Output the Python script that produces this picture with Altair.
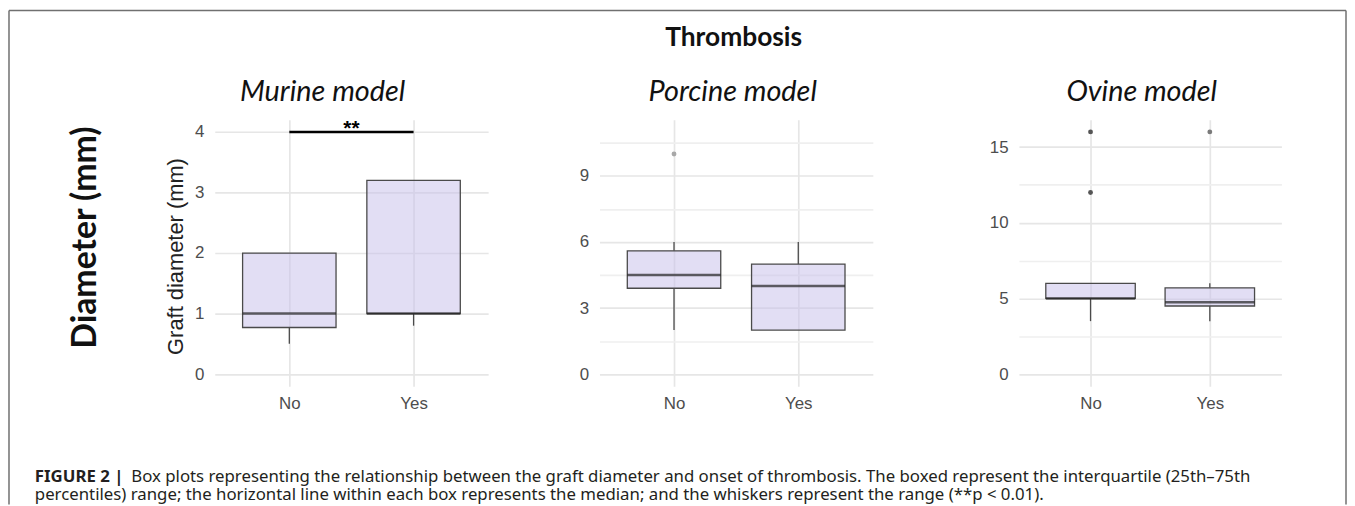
import altair as alt
import pandas as pd

# ---------------- data ----------------
groups = ["No", "Yes"]

murine_q1 = [0.77, 1.0]
murine_median = [1.0, 1.0]
murine_q3 = [2.0, 3.2]
murine_low = [0.5, 0.8]
murine_high = [2.0, 3.2]
murine_out_group = []
murine_out_value = []
murine_ticks = [0, 0.5, 1, 1.5, 2, 2.5, 3, 3.5, 4]

porcine_q1 = [3.9, 2.0]
porcine_median = [4.5, 4.0]
porcine_q3 = [5.6, 5.0]
porcine_low = [2.0, 2.0]
porcine_high = [6.0, 6.0]
porcine_out_group = ["No"]
porcine_out_value = [10.0]
porcine_ticks = [0, 1.5, 3, 4.5, 6, 7.5, 9, 10.5]

ovine_q1 = [5.0, 4.5]
ovine_median = [5.0, 4.75]
ovine_q3 = [6.0, 5.7]
ovine_low = [3.5, 3.5]
ovine_high = [6.0, 6.0]
ovine_out_group = ["No", "No", "Yes"]
ovine_out_value = [16.0, 12.0, 16.0]
ovine_ticks = [0, 2.5, 5, 7.5, 10, 12.5, 15]

sig_from = ["No"]
sig_to = ["Yes"]
sig_level = [4.0]
sig_label = ["**"]

panel_titles = ["Murine model", "Porcine model", "Ovine model"]
main_title = "Thrombosis"
side_title = "Diameter (mm)"
y_title = "Graft diameter (mm)"
caption_bold = "FIGURE 2 |"
caption_line1 = ("Box plots representing the relationship between the graft diameter and onset of "
                 "thrombosis. The boxed represent the interquartile (25th\u201375th")
caption_line2 = ("percentiles) range; the horizontal line within each box represents the median; "
                 "and the whiskers represent the range (**p < 0.01).")

# ---------------- styling ----------------
H = 268
FILL = "#c5bdea"
EDGE = "#4a4a4a"
TITLE_FONT = "Lato"
AX_FONT = "Liberation Sans"
CAP_FONT = "Noto Sans"
CAP_SIZE = 16.9

one = pd.DataFrame({"k": [0]})


def text_layer(txt, x, y, size, weight="normal", style="normal", font=TITLE_FONT,
               angle=0, align="center", baseline="alphabetic", color="#111111"):
    return alt.Chart(one).mark_text(
        font=font, fontSize=size, fontWeight=weight, fontStyle=style,
        angle=angle, align=align, baseline=baseline, color=color
    ).encode(x=alt.value(x), y=alt.value(y), text=alt.value(txt))


def panel(q1, med, q3, lo, hi, og, ov, ticks, domain, label_step, width, box_w,
          out_color, extra):
    box_df = pd.DataFrame({"group": groups, "q1": q1, "med": med, "q3": q3,
                           "lo": lo, "hi": hi})
    out_df = pd.DataFrame({"group": og, "value": ov})
    xs = alt.Scale(type="point", padding=0.6, domain=groups)
    ys = alt.Scale(domain=domain, nice=False, zero=False)
    xenc = alt.X("group:N", scale=xs,
                 axis=alt.Axis(title=None, labelAngle=0, labelPadding=9, grid=True,
                               gridColor="#e6e6e6", gridWidth=1.7))
    yaxis = alt.Axis(title=None, values=ticks, labelPadding=11,
                     labelExpr=f"datum.value % {label_step} === 0 ? '' + datum.value : ''",
                     gridWidth=1.7,
                     gridColor={"condition": {"test": f"datum.value % {label_step} !== 0",
                                              "value": "#efefef"},
                                "value": "#e6e6e6"})

    def Y(f):
        return alt.Y(f, scale=ys, axis=yaxis)

    base = alt.Chart(box_df)
    w_lo = base.mark_rule(color=EDGE, strokeWidth=1.3).encode(x=xenc, y=Y("lo:Q"), y2="q1:Q")
    w_hi = base.mark_rule(color=EDGE, strokeWidth=1.3).encode(x=xenc, y=Y("q3:Q"), y2="hi:Q")
    box = base.mark_bar(size=box_w, fill=FILL, fillOpacity=0.5, stroke=EDGE,
                        strokeWidth=1.3).encode(x=xenc, y=Y("q1:Q"), y2="q3:Q")
    mid = base.mark_tick(size=box_w, thickness=2.6, color="#222222").encode(
        x=xenc, y=Y("med:Q"))
    layers = [box, w_lo, w_hi, mid]
    if len(og):
        pts = alt.Chart(out_df).mark_circle(size=24, opacity=1).encode(
            x=xenc, y=Y("value:Q"),
            color=alt.condition(alt.datum.group == "Yes", alt.value(out_color[1]),
                                alt.value(out_color[0])))
        layers.append(pts)
    layers += extra
    return alt.layer(*layers).properties(width=width, height=H)


# ---- panel 1 (origin at page 216,119) ----
sig_df = pd.DataFrame({"a": sig_from, "b": sig_to, "y": sig_level, "t": sig_label})
p1_xs = alt.Scale(type="point", padding=0.6, domain=groups)
p1_ys = alt.Scale(domain=[-0.2, 4.2], nice=False, zero=False)
bracket = alt.Chart(sig_df).mark_rule(color="#000000", strokeWidth=2.6).encode(
    x=alt.X("a:N", scale=p1_xs), x2="b:N", y=alt.Y("y:Q", scale=p1_ys))
stars = alt.Chart(sig_df).mark_text(font=AX_FONT, fontSize=21, fontWeight="bold",
                                    baseline="alphabetic", dy=3, dx=62.5).encode(
    x=alt.X("a:N", scale=p1_xs), y=alt.Y("y:Q", scale=p1_ys), text="t:N")

FR = "#707070"
frame = [
    alt.Chart(one).mark_rule(color=FR, strokeWidth=1.5).encode(
        x=alt.value(-207), y=alt.value(-110), y2=alt.value(387)),
    alt.Chart(one).mark_rule(color=FR, strokeWidth=1.5).encode(
        x=alt.value(-207), x2=alt.value(1138), y=alt.value(-110)),
    alt.Chart(one).mark_rule(color=FR, strokeWidth=1.5).encode(
        x=alt.value(1138), y=alt.value(-110), y2=alt.value(387)),
]

CAPC = "#231f20"
p1_extra = frame + [
    bracket, stars,
    text_layer(panel_titles[0], 108.5, -19, 29, style="italic"),
    text_layer(side_title, -129, 118.5, 34, weight="bold", angle=270, baseline="middle"),
    text_layer(y_title, -39, 137.5, 22, font=AX_FONT, angle=270, baseline="middle",
               color="#222222"),
    text_layer(caption_bold, -181, 364, CAP_SIZE, weight="bold", font=CAP_FONT,
               align="left", color=CAPC),
    text_layer(caption_line1, -84, 364, CAP_SIZE, font=CAP_FONT, align="left", color=CAPC),
    text_layer(caption_line2, -181, 382, CAP_SIZE, font=CAP_FONT, align="left", color=CAPC),
]

p1 = panel(murine_q1, murine_median, murine_q3, murine_low, murine_high,
           murine_out_group, murine_out_value, murine_ticks, [-0.2, 4.2], 1, 275, 94,
           ["#555555", "#777777"], p1_extra)

p2 = panel(porcine_q1, porcine_median, porcine_q3, porcine_low, porcine_high,
           porcine_out_group, porcine_out_value, porcine_ticks, [-0.55, 11.55], 3, 275, 94,
           ["#a8a8a8", "#a8a8a8"],
           [text_layer(panel_titles[1], 134, -19, 29, style="italic"),
            text_layer(main_title, 135, -74, 26.5, weight="bold")])

p3 = panel(ovine_q1, ovine_median, ovine_q3, ovine_low, ovine_high,
           ovine_out_group, ovine_out_value, ovine_ticks, [-0.8, 16.8], 5, 264, 90,
           ["#555555", "#7a7a7a"],
           [text_layer(panel_titles[2], 123.5, -19, 29, style="italic")])


def spacer(w):
    return alt.Chart(one).mark_point(opacity=0).encode(
        x=alt.value(0), y=alt.value(0)).properties(width=w, height=H)


chart = alt.hconcat(p1, spacer(112), p2, spacer(147), p3, spacing=0, bounds="flush").properties(
    padding=0
).configure_view(stroke=None).configure_axis(
    domain=False, ticks=False, tickSize=0, labelFont=AX_FONT, labelFontSize=17,
    labelColor="#4d4d4d"
)

chart.save("out.html", embed_options={"renderer": "svg", "actions": False})
